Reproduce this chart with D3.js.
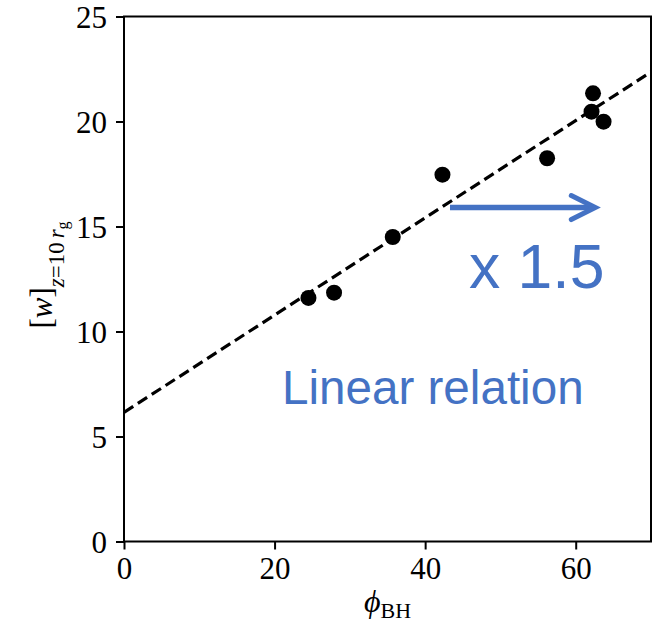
<!DOCTYPE html>
<html>
<head>
<meta charset="utf-8">
<script src="https://cdn.jsdelivr.net/npm/d3@7"></script>
<style>
  body { margin: 0; background: #fff; }
  svg { display: block; }
</style>
</head>
<body>
<div id="chart"></div>
<script>
// scatter of [w] at z = 10 r_g against phi_BH, with a linear fit

// data
const phiBH = [24.5, 27.9, 35.7, 42.3, 56.2, 62.1, 62.3, 63.7];
const wValues = [11.6, 11.85, 14.5, 17.47, 18.25, 20.47, 21.34, 19.99];

// fit line, given by its two ends
const fitX = [0, 70];
const fitY = [6.15, 22.36];

// arrow "x 1.5" (data coords)
const arrowX = [43.3, 62.6];
const arrowY = 15.9;

const xTicks = [0, 20, 40, 60];
const yTicks = [0, 5, 10, 15, 20, 25];

const width = 669;
const height = 630;
const marginTop = 16.5;
const marginRight = 18;
const marginBottom = 88.5;
const marginLeft = 124;

const blue = "#4472c4";
const serif = "'Liberation Serif', 'DejaVu Serif', serif";
const sans = "'Liberation Sans', Arial, sans-serif";

const svg = d3.select("#chart")
  .append("svg")
    .attr("width", width)
    .attr("height", height);

svg.append("rect")
    .attr("width", width)
    .attr("height", height)
    .attr("fill", "#fff");

const x = d3.scaleLinear()
    .domain([0, 70])
    .range([marginLeft, width - marginRight]);

const y = d3.scaleLinear()
    .domain([0, 25])
    .range([height - marginBottom, marginTop]);

// clip the fit line to the axes box
svg.append("clipPath")
    .attr("id", "clip")
  .append("rect")
    .attr("x", x(0))
    .attr("y", y(25))
    .attr("width", x(70) - x(0))
    .attr("height", y(0) - y(25));

const line = d3.line()
    .x(d => x(d[0]))
    .y(d => y(d[1]));

svg.append("path")
    .attr("clip-path", "url(#clip)")
    .attr("d", line(d3.zip(fitX, fitY)))
    .attr("fill", "none")
    .attr("stroke", "#000")
    .attr("stroke-width", 3.2)
    .attr("stroke-dasharray", "11,5.5");

// points
svg.append("g")
  .selectAll("circle")
  .data(d3.zip(phiBH, wValues))
  .join("circle")
    .attr("cx", d => x(d[0]))
    .attr("cy", d => y(d[1]))
    .attr("r", 8)
    .attr("fill", "#000");

// axes
const xAxis = svg.append("g")
    .attr("transform", `translate(0,${y(0)})`)
    .call(d3.axisBottom(x).tickValues(xTicks).tickSize(8).tickPadding(6).tickFormat(d3.format("d")));

const yAxis = svg.append("g")
    .attr("transform", `translate(${x(0)},0)`)
    .call(d3.axisLeft(y).tickValues(yTicks).tickSize(8).tickPadding(9).tickFormat(d3.format("d")));

[xAxis, yAxis].forEach(g => {
  g.select(".domain").remove();
  g.selectAll(".tick line").attr("stroke", "#000").attr("stroke-width", 2);
  g.selectAll(".tick text")
      .attr("fill", "#000")
      .style("font-family", serif)
      .style("font-size", "31px");
});
xAxis.selectAll(".tick text").attr("dy", "0.76em");
yAxis.selectAll(".tick text").attr("dy", "0.34em");

// frame
svg.append("rect")
    .attr("x", x(0))
    .attr("y", y(25))
    .attr("width", x(70) - x(0))
    .attr("height", y(0) - y(25))
    .attr("fill", "none")
    .attr("stroke", "#000")
    .attr("stroke-width", 2);

// x label: phi_BH
const xLabel = svg.append("text")
    .attr("x", (x(0) + x(70)) / 2)
    .attr("y", 612)
    .attr("text-anchor", "middle")
    .style("font-family", serif)
    .style("font-size", "32px")
    .attr("fill", "#000");
xLabel.append("tspan").style("font-style", "italic").text("ϕ");
xLabel.append("tspan").attr("dy", 6).style("font-size", "22px").text("BH");

// y label: [w]_{z=10 r_g}
const yLabel = svg.append("text")
    .attr("transform", `translate(52,${(y(0) + y(25)) / 2 - 4}) rotate(-90)`)
    .attr("text-anchor", "middle")
    .style("font-family", serif)
    .style("font-size", "31px")
    .attr("fill", "#000");
yLabel.append("tspan").text("[");
yLabel.append("tspan").style("font-style", "italic").text("w");
yLabel.append("tspan").text("]");
yLabel.append("tspan").attr("dy", 12).style("font-size", "23px").style("font-style", "italic").text("z");
yLabel.append("tspan").style("font-size", "23px").text("=10");
yLabel.append("tspan").attr("dx", 4).style("font-size", "23px").style("font-style", "italic").text("r");
yLabel.append("tspan").attr("dy", 4).style("font-size", "16px").text("g");

// arrow
const ax0 = x(arrowX[0]);
const ax1 = x(arrowX[1]);
const ay = y(arrowY);
svg.append("line")
    .attr("x1", ax0).attr("y1", ay)
    .attr("x2", ax1 - 2).attr("y2", ay)
    .attr("stroke", blue)
    .attr("stroke-width", 5.5);
svg.append("path")
    .attr("d", `M${ax1 - 24},${ay - 12}L${ax1},${ay}L${ax1 - 24},${ay + 12}`)
    .attr("fill", "none")
    .attr("stroke", blue)
    .attr("stroke-width", 5)
    .attr("stroke-linecap", "round")
    .attr("stroke-linejoin", "miter");

// annotations
svg.append("text")
    .attr("x", 469)
    .attr("y", 288)
    .style("font-family", sans)
    .style("font-size", "62.5px")
    .attr("fill", blue)
    .text("x 1.5");

svg.append("text")
    .attr("x", 282)
    .attr("y", 404)
    .style("font-family", sans)
    .style("font-size", "47.6px")
    .attr("fill", blue)
    .text("Linear relation");
</script>
</body>
</html>
